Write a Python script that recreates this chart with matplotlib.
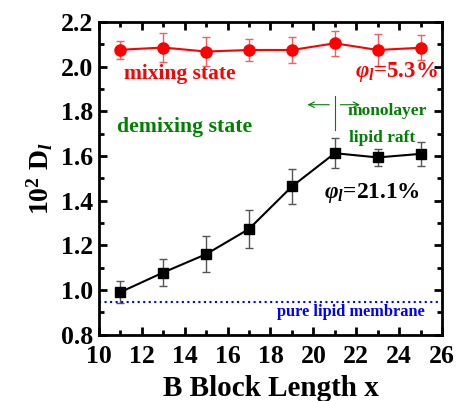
import numpy as np
import matplotlib
matplotlib.use("Agg")
from matplotlib import pyplot as plt
from matplotlib.ticker import MultipleLocator

plt.rcParams['font.family'] = ['Liberation Serif', 'DejaVu Serif']
plt.rcParams['font.weight'] = 'bold'
plt.rcParams['mathtext.fontset'] = 'custom'
plt.rcParams['mathtext.rm'] = 'Liberation Serif:bold'
plt.rcParams['mathtext.it'] = 'Liberation Serif:bold:italic'

# data
x_len = [11, 13, 15, 17, 19, 21, 23, 25]
d_mix = [2.076, 2.086, 2.068, 2.075, 2.075, 2.105, 2.075, 2.085]
d_mix_err = [0.04, 0.065, 0.065, 0.05, 0.06, 0.055, 0.07, 0.055]
d_demix = [0.991, 1.079, 1.161, 1.274, 1.464, 1.613, 1.594, 1.610]
d_demix_err = [0.05, 0.06, 0.08, 0.085, 0.078, 0.067, 0.04, 0.055]
pure_lipid = 0.949

fig = plt.figure(figsize=(4.6, 4.01), dpi=100)
ax = fig.add_axes([0.215, 0.165, 0.746, 0.78])

ax.errorbar(x_len, d_mix, yerr=d_mix_err, color="red", ecolor="#f06060",
            marker="o", markersize=8, lw=1.5, elinewidth=1, capsize=3)
ax.errorbar(x_len, d_demix, yerr=d_demix_err, color="black", ecolor="#555555",
            marker="s", markersize=7.5, lw=1.5, elinewidth=1, capsize=3)
ax.axhline(pure_lipid, color="blue", ls=":", lw=1.5)

ax.set_xlim(10, 26)
ax.set_ylim(0.8, 2.2)
ax.xaxis.set_major_locator(MultipleLocator(2))
ax.xaxis.set_minor_locator(MultipleLocator(1))
ax.yaxis.set_major_locator(MultipleLocator(0.2))
ax.yaxis.set_minor_locator(MultipleLocator(0.1))
ax.yaxis.set_major_formatter(plt.FormatStrFormatter('%.1f'))
ax.tick_params(which='both', direction='in', top=True, right=True, width=2)
ax.tick_params(which='major', length=6, labelsize=18.5, pad=4)
ax.tick_params(axis='x', which='major', pad=7)
ax.tick_params(which='minor', length=3.5)
for s in ax.spines.values():
    s.set_linewidth(2)

ax.set_xlabel("B Block Length x", fontsize=21, fontweight='bold', labelpad=5)
ax.set_ylabel(r"10$^2$ D$_{\mathit{l}}$", fontsize=20, fontweight='bold', labelpad=4)

ax.text(11.17, 1.967, "mixing state", color="red", fontsize=15.5, va="center")
ax.text(25.8, 1.975, r"$\varphi_{\mathit{l}}$=5.3%", color="red", fontsize=16.5, ha="right", va="center")
ax.text(10.84, 1.73, "demixing state", color="green", fontsize=15.7, va="center")
ax.plot([21, 21], [1.717, 1.87], color="green", lw=0.8)
ax.annotate("", xy=(19.6, 1.83), xytext=(20.87, 1.83),
            arrowprops=dict(arrowstyle="->", color="green", lw=0.8))
ax.annotate("", xy=(22.3, 1.83), xytext=(21.13, 1.83),
            arrowprops=dict(arrowstyle="->", color="green", lw=0.8))
ax.text(23.45, 1.80, "monolayer", color="green", fontsize=12.5, ha="center", va="center")
ax.text(23.2, 1.68, "lipid raft", color="green", fontsize=12.5, ha="center", va="center")
ax.text(20.5, 1.435, r"$\varphi_{\mathit{l}}$=21.1%", color="black", fontsize=16.8, va="center")
ax.text(18.3, 0.904, "pure lipid membrane", color="blue", fontsize=11.8, va="center")

fig.savefig("out.png", dpi=100)
